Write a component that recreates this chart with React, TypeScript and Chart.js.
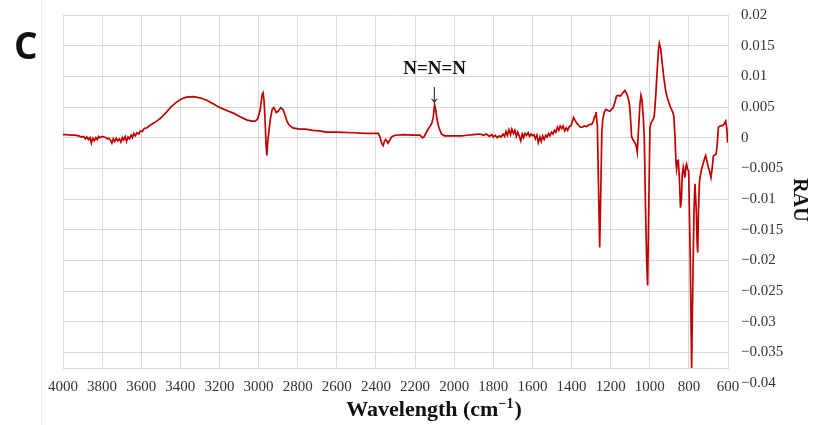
import React, { useEffect, useRef } from "react";
import { Chart, registerables } from "chart.js";

Chart.register(...registerables);

// ---- data ----
const wavenumbers: number[] = [
  4000, 3980, 3960, 3940, 3920, 3905, 3895, 3885, 3878, 3870, 3862, 3855, 3848, 3840, 3832, 3825, 3818, 3810, 3800, 3790,
  3780, 3772, 3765, 3757, 3750, 3743, 3736, 3728, 3720, 3712, 3704, 3697, 3690, 3682, 3675, 3668, 3660, 3652, 3645, 3638,
  3630, 3622, 3612, 3605, 3595, 3585, 3572, 3560, 3540, 3521, 3500, 3470, 3445, 3419, 3395, 3368, 3334, 3300, 3265, 3230,
  3197, 3160, 3129, 3095, 3061, 3035, 3018, 3005, 2992, 2982, 2977, 2972, 2967, 2962, 2958, 2954, 2947, 2940, 2930, 2922,
  2910, 2900, 2887, 2875, 2865, 2855, 2845, 2825, 2790, 2760, 2722, 2690, 2652, 2600, 2517, 2450, 2388, 2380, 2372, 2363,
  2357, 2350, 2345, 2338, 2328, 2318, 2300, 2260, 2210, 2175, 2163, 2155, 2140, 2125, 2115, 2107, 2100, 2094, 2088, 2078,
  2065, 2050, 2000, 1960, 1936, 1900, 1868, 1850, 1835, 1820, 1808, 1800, 1790, 1780, 1770, 1760, 1750, 1742, 1735, 1728,
  1720, 1712, 1705, 1697, 1690, 1682, 1675, 1668, 1660, 1652, 1645, 1638, 1630, 1622, 1615, 1607, 1600, 1592, 1585, 1577,
  1570, 1562, 1555, 1548, 1540, 1532, 1525, 1517, 1510, 1502, 1495, 1487, 1480, 1472, 1465, 1458, 1450, 1443, 1435, 1427,
  1420, 1411, 1402, 1395, 1390, 1383, 1374, 1365, 1355, 1345, 1335, 1323, 1310, 1297, 1289, 1280, 1275, 1268, 1262, 1256,
  1250, 1245, 1240, 1232, 1224, 1212, 1204, 1195, 1187, 1178, 1170, 1160, 1150, 1140, 1127, 1118, 1110, 1103, 1098, 1093,
  1085, 1076, 1068, 1064, 1058, 1050, 1045, 1040, 1033, 1028, 1022, 1016, 1011, 1005, 999, 992, 985, 977, 970, 962,
  955, 951, 944, 936, 927, 918, 907, 895, 883, 877, 871, 866, 863, 858, 854, 848, 843, 838,
  834, 829, 824, 820, 815, 812, 806, 801, 793, 786, 780, 774, 769, 762, 758, 755, 751, 746, 743, 735,
  725, 718, 714, 708, 701, 694, 687, 681, 675, 668, 661, 655, 649, 640, 627, 620, 612, 606, 602,
];

const absorbance: number[] = [
  0.0005, 0.0005, 0.0004, 0.0004, 0.0003, 0.0001, 0.0002, -0.0002, 0.0001, -0.0003, 0.0, -0.0009, -0.0001, -0.0005, 0.0, -0.0003, 0.0002, 0.0, 0.0002, 0.0001,
  0.0, -0.0002, -0.0001, -0.0004, -0.0009, -0.0002, -0.0006, -0.0001, -0.0005, -0.0002, -0.0007, 0.0, -0.0004, 0.0002, -0.0006, 0.0001, -0.0002, 0.0004, 0.0, 0.0007,
  0.0003, 0.0008, 0.0006, 0.0011, 0.001, 0.0015, 0.0016, 0.0019, 0.0023, 0.0027, 0.0032, 0.0042, 0.0051, 0.0058, 0.0063, 0.0066, 0.0067, 0.0065, 0.0061, 0.0055,
  0.0049, 0.0044, 0.004, 0.0034, 0.0029, 0.0027, 0.0027, 0.003, 0.0045, 0.007, 0.0073, 0.006, 0.003, -0.001, -0.0029, -0.001, 0.0012, 0.003, 0.0047, 0.0049,
  0.0041, 0.0043, 0.0049, 0.0046, 0.0037, 0.0027, 0.0021, 0.0016, 0.0014, 0.0014, 0.0012, 0.0011, 0.0009, 0.0009, 0.0008, 0.0007, 0.0007, 0.0002, -0.0008, -0.0013,
  -0.0006, -0.0003, -0.0005, -0.0009, -0.0003, 0.0002, 0.0004, 0.0005, 0.0004, 0.0004, 0.0, 0.0001, 0.001, 0.0018, 0.0023, 0.0033, 0.0054, 0.0045, 0.003, 0.0016,
  0.0006, 0.0003, 0.0003, 0.0003, 0.0004, 0.0005, 0.0006, 0.0004, 0.0006, 0.0002, 0.0005, 0.0001, 0.0004, 0.0, 0.0003, 0.0001, 0.0006, 0.0002, 0.001, 0.0004,
  0.0013, 0.0005, 0.0014, 0.0007, 0.0012, 0.0002, 0.0009, 0.0003, -0.0005, 0.0006, 0.0, 0.0007, 0.0004, 0.0008, 0.0002, 0.0006, 0.0003, 0.0005, -0.0002, 0.0004,
  -0.0008, 0.0001, -0.0006, 0.0003, -0.0003, 0.0004, 0.0001, 0.0007, 0.0003, 0.0009, 0.0006, 0.0012, 0.0009, 0.0017, 0.0012, 0.0019, 0.0015, 0.0019, 0.0011, 0.0016,
  0.0012, 0.0018, 0.002, 0.0027, 0.0033, 0.0029, 0.0024, 0.0021, 0.0017, 0.0017, 0.0019, 0.0018, 0.0021, 0.0022, 0.0026, 0.0036, 0.0042, 0.002, -0.008, -0.0179,
  -0.008, 0.001, 0.003, 0.0042, 0.0046, 0.0044, 0.0043, 0.0046, 0.0049, 0.0058, 0.0068, 0.0069, 0.0068, 0.0072, 0.0077, 0.0072, 0.0064, 0.0052, 0.003, 0.0002,
  -0.0004, -0.0008, -0.0015, -0.0023, 0.001, 0.0055, 0.0069, 0.0062, 0.0033, 0.0, -0.011, -0.02, -0.0241, -0.011, 0.0017, 0.0025, 0.0028, 0.0035, 0.0065, 0.011,
  0.0145, 0.0154, 0.0145, 0.012, 0.0095, 0.0075, 0.0062, 0.005, 0.0042, 0.0035, 0.0002, -0.004, -0.0051, -0.0038, -0.0037, -0.007, -0.0114, -0.01,
  -0.006, -0.0048, -0.0058, -0.0065, -0.0046, -0.0043, -0.0052, -0.0054, -0.02, -0.0377, -0.024, -0.012, -0.0075, -0.012, -0.017, -0.0187, -0.012, -0.0072, -0.0065, -0.0051,
  -0.004, -0.0032, -0.0029, -0.0038, -0.0048, -0.0055, -0.0065, -0.005, -0.003, -0.0028, -0.0027, -0.001, 0.0017, 0.0019, 0.002, 0.0022, 0.0027, 0.0015, -0.0008,
];

const yTickValues: number[] = [0.02, 0.015, 0.01, 0.005, 0, -0.005, -0.01, -0.015, -0.02, -0.025, -0.03, -0.035, -0.04];
const xMin = 600;
const xMax = 4000;
const xStep = 200;
const yTop = 0.02;
const yBottom = -0.03755;

const panelLabel = "C";
const annotationText = "N=N=N";
const annotationArrow = "\u2193";
const annotationX = 2100;
const xTitleMain = "Wavelength (cm";
const xTitleSup = "\u22121";
const xTitleEnd = ")";
const yTitle = "RAU";

const SERIF = '"Liberation Serif", "Times New Roman", serif';

const overlayPlugin = {
  id: "overlay",
  afterDraw(chart: any) {
    const ctx = chart.ctx as CanvasRenderingContext2D;
    const xs = chart.scales.x;
    ctx.save();
    // faint chart-area border on the left
    ctx.strokeStyle = "#ebebeb";
    ctx.lineWidth = 1;
    ctx.beginPath();
    ctx.moveTo(41.5, 0);
    ctx.lineTo(41.5, 425);
    ctx.stroke();

    // panel letter
    ctx.fillStyle = "#111111";
    ctx.textAlign = "left";
    ctx.textBaseline = "alphabetic";
    ctx.font = 'bold 37px "Open Sans", sans-serif';
    ctx.fillText(panelLabel, 14, 58.5);

    // annotation
    const ax = xs.getPixelForValue(annotationX);
    ctx.textAlign = "center";
    ctx.fillStyle = "#111111";
    ctx.font = "bold 19px " + SERIF;
    ctx.fillText(annotationText, ax, 74);
    ctx.fillStyle = "#333333";
    ctx.font = "27px " + SERIF;
    ctx.fillText(annotationArrow, ax, 102);

    // x title with superscript
    ctx.fillStyle = "#111111";
    ctx.textAlign = "left";
    const mainFont = "bold 22px " + SERIF;
    const supFont = "bold 14px " + SERIF;
    ctx.font = mainFont;
    const w1 = ctx.measureText(xTitleMain).width;
    const w3 = ctx.measureText(xTitleEnd).width;
    ctx.font = supFont;
    const w2 = ctx.measureText(xTitleSup).width;
    const total = w1 + w2 + w3 + 1;
    let tx = 434 - total / 2;
    const ty = 416;
    ctx.font = mainFont;
    ctx.fillText(xTitleMain, tx, ty);
    tx += w1;
    ctx.font = supFont;
    ctx.fillText(xTitleSup, tx, ty - 8);
    tx += w2 + 1;
    ctx.font = mainFont;
    ctx.fillText(xTitleEnd, tx, ty);

    // y title rotated
    ctx.save();
    ctx.translate(799, 200);
    ctx.rotate(Math.PI / 2);
    ctx.textAlign = "center";
    ctx.textBaseline = "middle";
    ctx.font = "bold 20px " + SERIF;
    ctx.fillText(yTitle, 0, 0);
    ctx.restore();

    ctx.restore();
  },
};

export default function App() {
  const canvasRef = useRef<HTMLCanvasElement | null>(null);

  useEffect(() => {
    if (!canvasRef.current) return;
    const points = wavenumbers.map((w, i) => ({ x: w, y: absorbance[i] }));
    const chart = new Chart(canvasRef.current, {
      type: "line",
      data: {
        datasets: [
          {
            data: points,
            borderColor: "#c00000",
            borderWidth: 1.7,
            pointRadius: 0,
            tension: 0,
            fill: false,
          },
        ],
      },
      options: {
        animation: false,
        responsive: false,
        maintainAspectRatio: false,
        layout: { padding: { left: 63, top: 15, right: 0, bottom: 0 } },
        plugins: { legend: { display: false }, tooltip: { enabled: false } },
        scales: {
          x: {
            type: "linear",
            reverse: true,
            min: xMin,
            max: xMax,
            grid: { color: "#d9d9d9", lineWidth: 1, drawTicks: false },
            border: { color: "#d9d9d9" },
            ticks: {
              stepSize: xStep,
              autoSkip: false,
              maxRotation: 0,
              minRotation: 0,
              padding: 10,
              color: "#333333",
              font: { family: SERIF, size: 15 },
              callback: (v: any) => String(v),
            },
            afterFit: (s: any) => {
              s.height = 57;
              s.paddingLeft = 0;
              s.paddingRight = 0;
            },
          },
          y: {
            type: "linear",
            position: "right",
            min: yBottom,
            max: yTop,
            grid: {
              color: (c: any) => (c.tick && c.tick.value < -0.038 ? "rgba(0,0,0,0)" : "#d9d9d9"),
              lineWidth: 1,
              drawTicks: false,
            },
            border: { color: "#d9d9d9" },
            ticks: {
              autoSkip: false,
              padding: 13,
              color: "#333333",
              font: { family: SERIF, size: 15 },
              callback: (v: any) => {
                const n = Number(Number(v).toFixed(3));
                if (n === 0) return "0";
                return String(n).replace("-", "\u2212");
              },
            },
            afterBuildTicks: (s: any) => {
              s.ticks = yTickValues.map((v) => ({ value: v }));
            },
            afterFit: (s: any) => {
              s.width = 85;
              s.paddingTop = 0;
              s.paddingBottom = 0;
            },
          },
        },
      },
      plugins: [overlayPlugin],
    });
    return () => chart.destroy();
  }, []);

  return (
    <div style={{ position: "absolute", left: 0, top: 0, width: 813, height: 425, background: "#ffffff" }}>
      <canvas ref={canvasRef} width={813} height={425} />
    </div>
  );
}
